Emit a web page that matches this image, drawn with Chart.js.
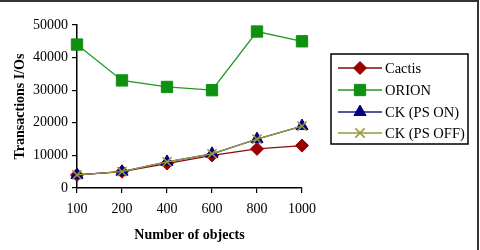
<!DOCTYPE html>
<html>
<head>
<meta charset="utf-8">
<script src="https://cdn.jsdelivr.net/npm/chart.js@4/dist/chart.umd.min.js"></script>
<style>
  body { margin: 0; background: #fff; }
  #wrap { width: 480px; height: 250px; position: relative; }
</style>
</head>
<body>
<div id="wrap"><canvas id="ioChart" width="480" height="250"></canvas></div>
<script>
const objects = ['100', '200', '400', '600', '800', '1000'];
const cactis = [4000, 5000, 7500, 10000, 12000, 13000];
const orion = [44000, 33000, 31000, 30000, 48000, 45000];
const ckPsOn = [4000, 5000, 8000, 10500, 15000, 19000];
const ckPsOff = [4000, 5000, 8000, 10500, 15000, 19000];
const seriesNames = ['Cactis', 'ORION', 'CK (PS ON)', 'CK (PS OFF)'];

const serif = "'Liberation Serif', 'Times New Roman', serif";

// legend box + frame lines drawn by hand
const frameAndLegend = {
    id: 'frameAndLegend',
    afterDraw(chart) {
        const ctx = chart.ctx;
        ctx.save();
        ctx.strokeStyle = '#333';
        ctx.lineWidth = 2;
        ctx.beginPath();
        ctx.moveTo(0, 1);
        ctx.lineTo(478, 1);
        ctx.lineTo(478, 250);
        ctx.stroke();

        ctx.strokeStyle = '#000';
        ctx.lineWidth = 1.5;
        ctx.strokeRect(331, 54, 137, 90);

        const rows = [68, 90, 112, 133];
        chart.data.datasets.forEach((ds, i) => {
            const y = rows[i];
            ctx.strokeStyle = ds.borderColor;
            ctx.lineWidth = 1.3;
            ctx.beginPath();
            ctx.moveTo(338, y);
            ctx.lineTo(382, y);
            ctx.stroke();
            ctx.fillStyle = ds.pointBackgroundColor;
            ctx.strokeStyle = ds.pointBorderColor;
            ctx.lineWidth = ds.pointBorderWidth;
            Chart.helpers.drawPoint(ctx, {
                pointStyle: ds.pointStyle,
                radius: ds.pointRadius,
                borderWidth: ds.pointBorderWidth,
                rotation: 0
            }, 360, y);
            ctx.fillStyle = '#000';
            ctx.font = '14.5px ' + serif;
            ctx.textBaseline = 'middle';
            ctx.fillText(ds.label, 385, y + 1);
        });
        ctx.restore();
    }
};

const ctxIO = document.getElementById('ioChart').getContext('2d');
const ioChart = new Chart(ctxIO, {
    type: 'line',
    data: {
        labels: objects,
        datasets: [{
            label: seriesNames[0],
            data: cactis,
            order: 2,
            borderColor: '#8b0a0a',
            borderWidth: 1.3,
            pointStyle: 'rectRot',
            pointRadius: 6.5,
            pointBackgroundColor: '#990000',
            pointBorderColor: '#990000',
            pointBorderWidth: 1
        }, {
            label: seriesNames[1],
            data: orion,
            order: 3,
            borderColor: '#1f9a1f',
            borderWidth: 1.3,
            pointStyle: 'rect',
            pointRadius: 8,
            pointBackgroundColor: '#109010',
            pointBorderColor: '#109010',
            pointBorderWidth: 1
        }, {
            label: seriesNames[2],
            data: ckPsOn,
            order: 1,
            borderColor: '#1a1a8c',
            borderWidth: 1.3,
            pointStyle: 'triangle',
            pointRadius: 7,
            pointBackgroundColor: '#000080',
            pointBorderColor: '#000080',
            pointBorderWidth: 1
        }, {
            label: seriesNames[3],
            data: ckPsOff,
            order: 0,
            borderColor: '#9a9a3a',
            borderWidth: 1.3,
            pointStyle: 'crossRot',
            pointRadius: 6.5,
            pointBackgroundColor: '#9a9a3a',
            pointBorderColor: '#9a9a3a',
            pointBorderWidth: 1.5
        }]
    },
    options: {
        responsive: false,
        animation: false,
        layout: { padding: { left: 0, right: 178, top: 25, bottom: 0 } },
        plugins: {
            legend: { display: false },
            tooltip: { enabled: false }
        },
        scales: {
            x: {
                offset: false,
                afterFit: (s) => { s.height = 62; },
                border: { color: '#000', width: 1.5 },
                grid: { drawOnChartArea: false, color: '#000', tickLength: 5, lineWidth: 1.2 },
                ticks: { color: '#000', font: { family: serif, size: 14 }, padding: 8, maxRotation: 0 },
                title: { display: true, text: 'Number of objects', color: '#000',
                    font: { family: serif, size: 14, weight: 'bold' }, padding: { top: 6, bottom: 6 } }
            },
            y: {
                min: 0,
                max: 50000,
                afterFit: (s) => { s.width = 77; },
                border: { color: '#000', width: 1.5 },
                grid: { drawOnChartArea: false, color: '#000', tickLength: 5, lineWidth: 1.2 },
                ticks: { stepSize: 10000, color: '#000', font: { family: serif, size: 14 }, padding: 4,
                    callback: (v) => String(v) },
                title: { display: true, text: 'Transactions I/Os', color: '#000',
                    font: { family: serif, size: 14, weight: 'bold' }, padding: { top: 12, bottom: 2 } }
            }
        }
    },
    plugins: [frameAndLegend]
});
</script>
</body>
</html>
